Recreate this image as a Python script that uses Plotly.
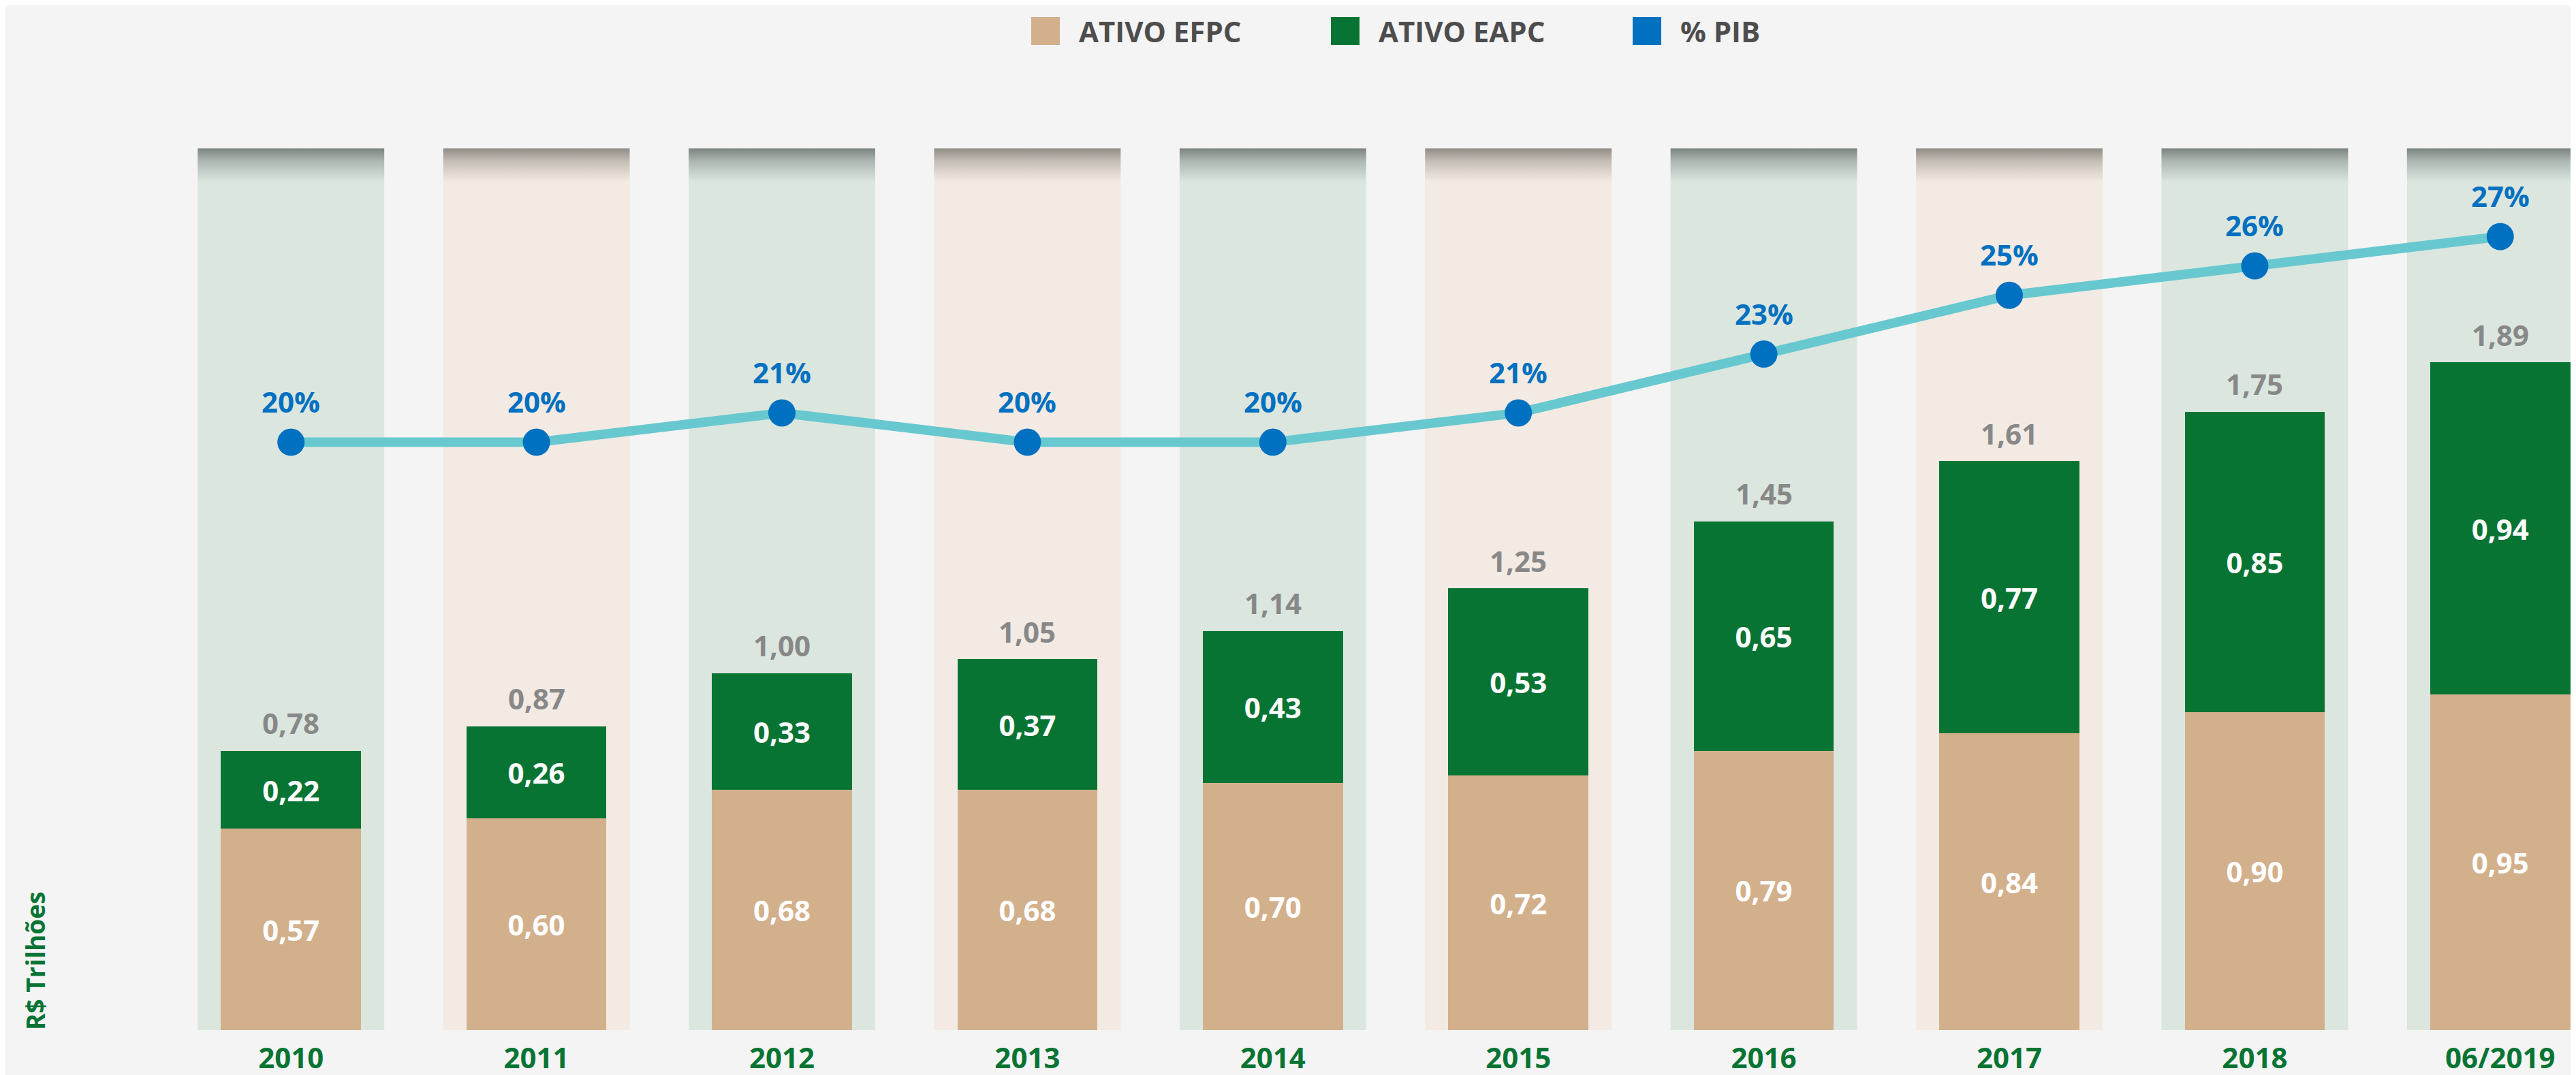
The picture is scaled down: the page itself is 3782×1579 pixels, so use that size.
import plotly.graph_objects as go

# ---------------- data ----------------
categories = ["2010", "2011", "2012", "2013", "2014", "2015", "2016", "2017", "2018", "06/2019"]
ativo_efpc = [0.57, 0.60, 0.68, 0.68, 0.70, 0.72, 0.79, 0.84, 0.90, 0.95]
ativo_eapc = [0.22, 0.26, 0.33, 0.37, 0.43, 0.53, 0.65, 0.77, 0.85, 0.94]
totals = [0.78, 0.87, 1.00, 1.05, 1.14, 1.25, 1.45, 1.61, 1.75, 1.89]
pct_pib = [20, 20, 21, 20, 20, 21, 23, 25, 26, 27]
column_tint = ["g", "b", "g", "b", "g", "b", "g", "b", "g", "g"]

# ---------------- style ----------------
W, H = 3782, 1579
ML, MR, MT, MB = 239, 0, 210, 74
PW, PH = W - ML - MR, H - MT - MB
XMIN = -0.5
XMAX = XMIN + PW / 360.4
YMAX = PH / 519.0
Y3MAX = PH / 43.17

C_EFPC = "#d3b08c"
C_EAPC = "#087434"
C_LINE = "#68c8cf"
C_MARK = "#0070c0"
C_TOTAL = "#888888"
C_LEG = "#4d4d4d"
FONT = "Open Sans"

tints = {
    "g": ("#dbe6df", "#afb9b3", "#7b837e"),
    "b": ("#f2eae3", "#c6bfb8", "#928c86"),
}

x = list(range(len(categories)))
fig = go.Figure()

# background columns (main subplot, drawn first) with a dark shadow at the top
COLW = 0.76
for i, t in zip(x, column_tint):
    base, mid, dark = tints[t]
    fig.add_trace(go.Scatter(
        x=[i - COLW / 2, i + COLW / 2, i + COLW / 2, i - COLW / 2, i - COLW / 2],
        y=[0, 0, YMAX, YMAX, 0], yaxis="y",
        mode="lines", line=dict(width=0), fill="toself",
        fillgradient=dict(type="vertical",
                          colorscale=[[0, base], [0.962, base], [0.985, mid], [1.0, dark]]),
        hoverinfo="skip", showlegend=False,
    ))

BARW = 0.57
fig.add_trace(go.Bar(
    x=x, y=ativo_efpc, yaxis="y2", name="ATIVO EFPC", width=BARW,
    marker=dict(color=C_EFPC, line=dict(width=0)),
    texttemplate="%{y:.2f}", textposition="inside", insidetextanchor="middle",
    textfont=dict(family=FONT, size=42, color="white", weight="bold"), showlegend=False,
))
fig.add_trace(go.Bar(
    x=x, y=ativo_eapc, yaxis="y2", name="ATIVO EAPC", width=BARW,
    marker=dict(color=C_EAPC, line=dict(width=0)),
    texttemplate="%{y:.2f}", textposition="inside", insidetextanchor="middle",
    textfont=dict(family=FONT, size=42, color="white", weight="bold"), showlegend=False,
))

fig.add_trace(go.Scatter(
    x=x, y=pct_pib, yaxis="y3", mode="lines+markers", name="% PIB",
    line=dict(color=C_LINE, width=14),
    marker=dict(color=C_MARK, size=40, line=dict(width=0)),
    showlegend=False,
))

annotations = []
for i, a, b, tot in zip(x, ativo_efpc, ativo_eapc, totals):
    annotations.append(dict(
        x=i, y=a + b, xref="x", yref="y2", text=f"{tot:.2f}".replace(".", ","),
        showarrow=False, yanchor="middle", yshift=41,
        font=dict(family=FONT, size=42, color=C_TOTAL, weight="bold"),
    ))
for i, p in zip(x, pct_pib):
    annotations.append(dict(
        x=i, y=p, xref="x", yref="y3", text=f"{p}%",
        showarrow=False, yanchor="middle", yshift=60,
        font=dict(family=FONT, size=42, color=C_MARK, weight="bold"),
    ))

def px_x(px):
    return (px - ML) / PW

def px_y(py):
    return (H - MB - py) / PH

# custom legend
legend_items = [("ATIVO EFPC", C_EFPC, 1506), ("ATIVO EAPC", C_EAPC, 1946), ("% PIB", C_MARK, 2389)]
shapes = []
for label, col, sx in legend_items:
    shapes.append(dict(type="rect", xref="paper", yref="paper",
                       x0=px_x(sx), x1=px_x(sx + 42), y0=px_y(58), y1=px_y(17),
                       fillcolor=col, line=dict(width=0), layer="above"))
    annotations.append(dict(x=px_x(sx + 68), y=px_y(37), xref="paper", yref="paper",
                            xanchor="left", yanchor="middle", showarrow=False, text=label,
                            font=dict(family=FONT, size=42, color=C_LEG, weight="bold")))

# y axis title
annotations.append(dict(x=px_x(43), y=px_y(1404), xref="paper", yref="paper",
                        xanchor="center", yanchor="middle", showarrow=False, textangle=-90,
                        text="R$ Trilhões",
                        font=dict(family=FONT, size=37, color=C_EAPC, weight="bold")))

fig.update_layout(
    width=W, height=H,
    margin=dict(l=ML, r=MR, t=MT, b=MB, pad=0),
    paper_bgcolor="#f4f4f4", plot_bgcolor="rgba(0,0,0,0)",
    barmode="stack", separators=",.",
    showlegend=False,
    xaxis=dict(range=[XMIN, XMAX], tickvals=x, ticktext=categories,
               tickfont=dict(family=FONT, size=42, color=C_EAPC, weight="bold"),
               showgrid=False, zeroline=False, showline=False, ticks="",
               ticklabelstandoff=13),
    yaxis=dict(range=[0, YMAX], visible=False, showgrid=False, zeroline=False),
    yaxis2=dict(range=[0, YMAX], overlaying="y", visible=False, showgrid=False, zeroline=False),
    yaxis3=dict(range=[0, Y3MAX], overlaying="y", visible=False, showgrid=False, zeroline=False),
    annotations=annotations,
    shapes=shapes,
)

fig.write_html("out.html")
